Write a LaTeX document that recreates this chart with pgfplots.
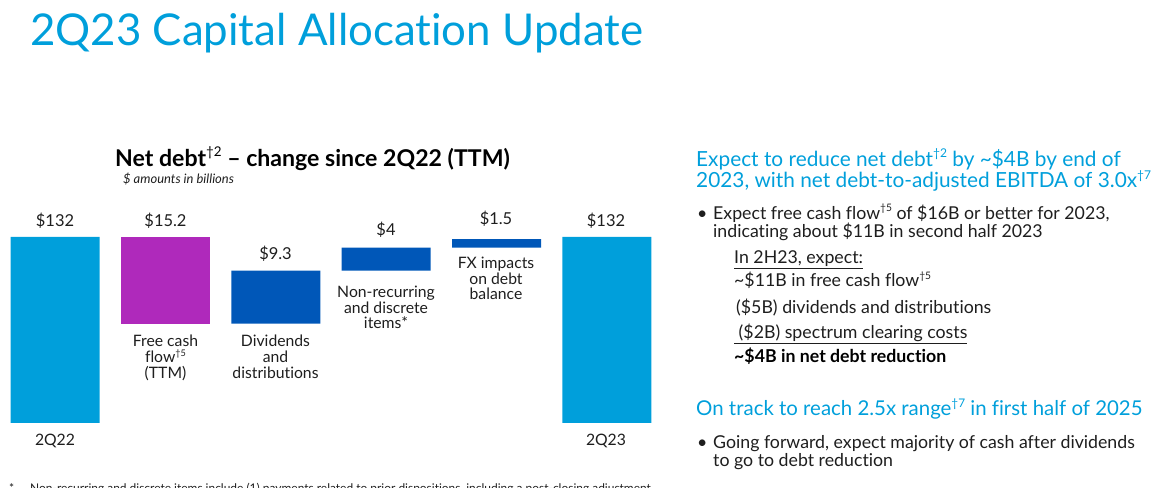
\documentclass[border=0pt]{standalone}
\usepackage{pgfplots}
\pgfplotsset{compat=1.18}
\usepackage{fontspec}
\setmainfont[Ligatures=NoCommon]{Lato}
\definecolor{attcyan}{RGB}{0,159,219}
\definecolor{attpurple}{RGB}{175,41,187}
\definecolor{attblue}{RGB}{0,87,184}
\definecolor{txt}{RGB}{30,30,30}
\newcommand{\fs}[1]{\fontsize{#1}{#1}\selectfont}
\newcommand{\sups}[1]{\raisebox{0.42em}{\scalebox{0.58}{#1}}}
\begin{document}
\begin{tikzpicture}
\begin{axis}[at={(0bp,65.3bp)}, anchor=south west, scale only axis,
  width=662bp, height=222.7bp, xmin=-0.5, xmax=5.5, ymin=99.5, ymax=138.43,
  axis lines=none, ybar stacked, bar width=89bp]
\addplot[draw=none, fill=none] coordinates {(0,0) (1,116.8) (2,116.8) (3,126.1) (4,130.1) (5,0)};
\addplot[draw=none, fill=attcyan] coordinates {(0,132) (1,0) (2,0) (3,0) (4,0) (5,132)};
\addplot[draw=none, fill=attpurple] coordinates {(0,0) (1,15.2) (2,0) (3,0) (4,0) (5,0)};
\addplot[draw=none, fill=attblue] coordinates {(0,0) (1,0) (2,9.3) (3,4) (4,1.5) (5,0)};
\end{axis}
\begin{scope}[x=1bp,y=1bp]
\path[use as bounding box] (0,0) rectangle (1168,488);
\clip (0,0) rectangle (1168,488);
% value labels
\begin{scope}[every node/.style={anchor=base, text=txt, font=\fs{16.5}, inner sep=0pt}]
\node at (55,261) {\$132};
\node at (165.5,261) {\$15.2};
\node at (275.5,228) {\$9.3};
\node at (386,252) {\$4};
\node at (496,263) {\$1.5};
\node at (606,261) {\$132};
\end{scope}
% category labels
\begin{scope}[every node/.style={anchor=base, text=txt, font=\fs{15.8}, inner sep=0pt}]
\node at (55,42) {2Q22};
\node at (606,42) {2Q23};
\node at (165.5,141.3) {Free cash};
\node at (165.5,125.3) {flow\sups{†5}};
\node at (165.5,109.3) {(TTM)};
\node at (275.5,141.3) {Dividends};
\node at (275.5,125.3) {and};
\node at (275.5,109.3) {distributions};
\node at (386,190.7) {Non-recurring};
\node at (386,174.7) {and discrete};
\node at (386,159.3) {items*};
\node at (496,219.7) {FX impacts};
\node at (496,203.7) {on debt};
\node at (496,188) {balance};
\end{scope}
% chart title
\node[anchor=base west, inner sep=0pt, text=black, font=\fs{23.2}\bfseries] at (115,321.3) {Net debt\sups{\normalfont †2} – change since 2Q22 (TTM)};
\node[anchor=base west, inner sep=0pt, text=txt, font=\fs{13}\itshape] at (123,304) {\$ amounts in billions};
% main title
\node[anchor=base west, inner sep=0pt, text=attcyan, font=\fs{44}] at (30,442) {2Q23 Capital Allocation Update};
% right text
\begin{scope}[every node/.style={anchor=base west, inner sep=0pt}]
\node[text=attcyan, font=\fs{20.9}] at (696,321.3) {Expect to reduce net debt\sups{†2} by \textasciitilde\$4B by end of};
\node[text=attcyan, font=\fs{20.9}] at (696,300) {2023, with net debt-to-adjusted EBITDA of 3.0x\sups{†7}};
\node[text=txt, font=\fs{17.8}] at (697,268.7) {•};
\node[text=txt, font=\fs{17.8}] at (713,268.7) {Expect free cash flow\sups{†5} of \$16B or better for 2023,};
\node[text=txt, font=\fs{17.8}] at (713,250.7) {indicating about \$11B in second half 2023};
\node[text=txt, font=\fs{17.8}] at (734,224) {\underline{In 2H23, expect:}};
\node[text=txt, font=\fs{17.8}] at (734,201.3) {\textasciitilde\$11B in free cash flow\sups{†5}};
\node[text=txt, font=\fs{17.8}] at (736,174) {(\$5B) dividends and distributions};
\node[text=txt, font=\fs{17.8}] at (734,149) {\underline{\ (\$2B) spectrum clearing costs}};
\node[text=black, font=\fs{17.8}\bfseries] at (734,125) {\textasciitilde\$4B in net debt reduction};
\node[text=attcyan, font=\fs{20.5}] at (696,72) {On track to reach 2.5x range\sups{†7} in first half of 2025};
\node[text=txt, font=\fs{17.8}] at (697,39.7) {•};
\node[text=txt, font=\fs{17.8}] at (713,39.7) {Going forward, expect majority of cash after dividends};
\node[text=txt, font=\fs{17.8}] at (713,21.3) {to go to debt reduction};
\node[text=txt, font=\fs{12}] at (9,-5) {*};
\node[text=txt, font=\fs{12}] at (30,-5) {Non-recurring and discrete items include (1) payments related to prior dispositions, including a post-closing adjustment};
\end{scope}
\end{scope}
\end{tikzpicture}
\end{document}
